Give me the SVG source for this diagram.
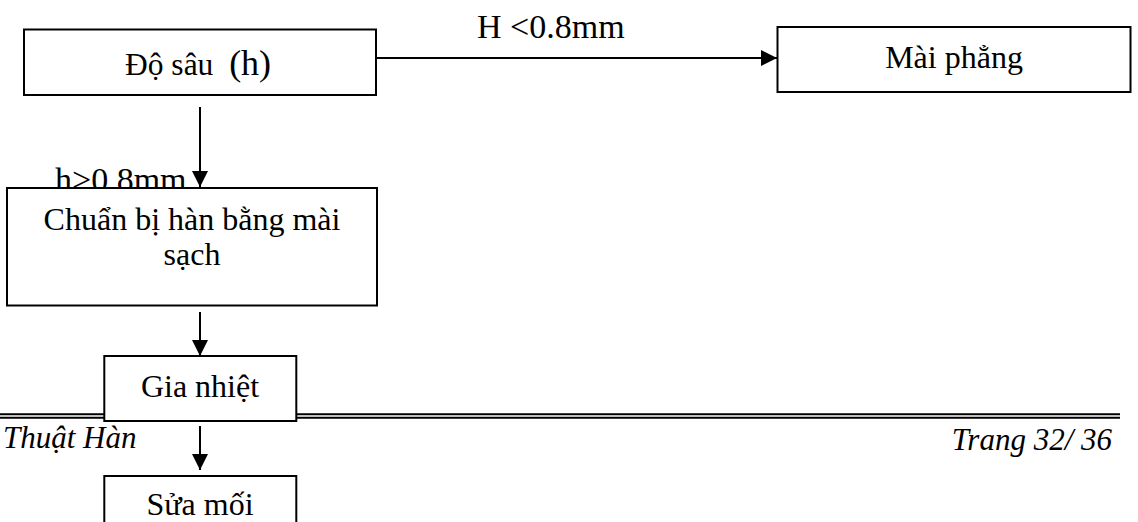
<svg xmlns="http://www.w3.org/2000/svg" width="1138" height="522" viewBox="0 0 1138 522">
  <style>
    .box { fill: #ffffff; stroke: #000000; stroke-width: 2; }
    .t { font-family: "Liberation Serif", "Times New Roman", serif; fill: #000000; }
    .c { text-anchor: middle; font-size: 32px; }
    .lbl { font-size: 34px; }
    .foot { font-size: 31px; font-style: italic; }
    .conn { stroke: #000000; stroke-width: 2; fill: none; }
    .rule { stroke: #000000; stroke-width: 2; }
  </style>
  <defs>
    <marker id="arr" viewBox="0 0 16 16" refX="16" refY="8" markerWidth="16" markerHeight="16" markerUnits="userSpaceOnUse" orient="auto">
      <path d="M0,0 L16,8 L0,16 Z" fill="#000000"/>
    </marker>
  </defs>

  <!-- footer rules -->
  <g id="footer">
    <line class="rule" x1="0" y1="414.3" x2="1120" y2="414.3"/>
    <line class="rule" x1="0" y1="417.7" x2="1120" y2="417.7"/>
    <text class="t foot" x="3" y="448">Thuật Hàn</text>
    <text class="t foot" x="1112" y="450" text-anchor="end">Trang 32/ 36</text>
  </g>

  <g id="connectors">
    <line class="conn" x1="377" y1="58" x2="777" y2="58" marker-end="url(#arr)"/>
    <text class="t lbl" x="477" y="38">H &lt;0.8mm</text>
    <line class="conn" x1="200" y1="107" x2="200" y2="187" marker-end="url(#arr)"/>
    <text class="t lbl" x="55" y="191">h&gt;0.8mm</text>
    <line class="conn" x1="200" y1="312" x2="200" y2="356" marker-end="url(#arr)"/>
    <line class="conn" x1="200" y1="426" x2="200" y2="470" marker-end="url(#arr)"/>
  </g>

  <g id="node-dosau">
    <rect class="box" x="24" y="29.5" width="352" height="65.5"/>
    <text class="t" x="125" y="75" font-size="31.5px" xml:space="preserve">Độ sâu  <tspan font-size="36px">(h)</tspan></text>
  </g>

  <g id="node-maiphang">
    <rect class="box" x="777.5" y="27" width="353" height="65"/>
    <text class="t c" x="954" y="68">Mài phẳng</text>
  </g>

  <g id="node-chuanbi">
    <rect class="box" x="7" y="188" width="370" height="117.5"/>
    <text class="t c" x="192" y="230">Chuẩn bị hàn bằng mài</text>
    <text class="t c" x="192" y="265">sạch</text>
  </g>

  <g id="node-gianhiet">
    <rect class="box" x="104.3" y="356" width="192" height="65"/>
    <text class="t c" x="200" y="397">Gia nhiệt</text>
  </g>

  <g id="node-suamoi">
    <rect class="box" x="104.3" y="476" width="192" height="60"/>
    <text class="t c" x="200" y="515">Sửa mối</text>
  </g>
</svg>
